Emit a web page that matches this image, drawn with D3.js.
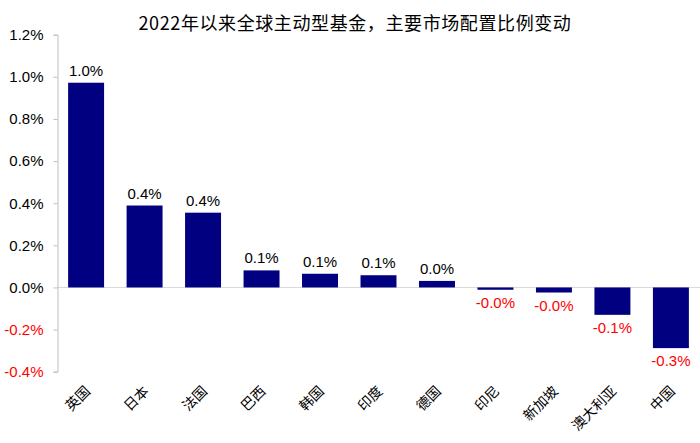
<!DOCTYPE html>
<html>
<head>
<meta charset="utf-8">
<script src="https://cdn.jsdelivr.net/npm/d3@7/dist/d3.min.js"></script>
<style>
  html, body { margin: 0; padding: 0; background: #fff; }
  svg { display: block; }
</style>
</head>
<body>
<svg id="chart" width="700" height="443"></svg>
<script>
const title = "2022年以来全球主动型基金，主要市场配置比例变动";
const categories = ["英国", "日本", "法国", "巴西", "韩国", "印度", "德国", "印尼", "新加坡", "澳大利亚", "中国"];
const values = [0.972, 0.389, 0.355, 0.081, 0.065, 0.058, 0.031, -0.011, -0.024, -0.130, -0.288];
const yTicks = [-0.4, -0.2, 0.0, 0.2, 0.4, 0.6, 0.8, 1.0, 1.2];

const svg = d3.select("#chart");
const latin = "'Liberation Sans', Arial, sans-serif";
const cjk = "'Noto Sans CJK SC', 'Liberation Sans', sans-serif";
const pct = v => v.toFixed(1) + "%";

const x = d3.scaleBand().domain(categories).range([57, 700]).paddingInner(0.385).paddingOuter(0.19);
const y = d3.scaleLinear().domain([-0.4, 1.2]).range([371.7, 34.7]);

// Title
svg.append("text")
  .attr("x", 355).attr("y", 30)
  .attr("text-anchor", "middle")
  .attr("font-family", cjk)
  .attr("font-size", 18)
  .attr("letter-spacing", 0.6)
  .attr("fill", "#000")
  .text(title);

// Zero line
svg.append("line")
  .attr("x1", 57).attr("x2", 700)
  .attr("y1", y(0)).attr("y2", y(0))
  .attr("stroke", "#d9d9d9").attr("stroke-width", 1);

// Y axis
const yAxis = d3.axisLeft(y)
  .tickValues(yTicks)
  .tickSize(4)
  .tickPadding(10)
  .tickFormat(pct);
const yg = svg.append("g").attr("transform", "translate(57.5,0)").call(yAxis);
yg.select(".domain").attr("stroke", "#bfbfbf");
yg.selectAll(".tick line").attr("stroke", "#bfbfbf");
yg.selectAll(".tick text")
  .attr("font-family", latin)
  .attr("font-size", 15)
  .attr("fill", d => d < 0 ? "#ff0000" : "#000");

// Bars
svg.append("g").selectAll("rect")
  .data(categories)
  .join("rect")
  .attr("x", (d) => x(d))
  .attr("width", x.bandwidth())
  .attr("y", (d, i) => y(Math.max(0, values[i])))
  .attr("height", (d, i) => Math.abs(y(values[i]) - y(0)))
  .attr("fill", "#000080");

// Data labels
svg.append("g").selectAll("text")
  .data(categories)
  .join("text")
  .attr("x", d => x(d) + x.bandwidth() / 2)
  .attr("y", (d, i) => values[i] >= 0 ? y(values[i]) - 7 : y(values[i]) + 18)
  .attr("text-anchor", "middle")
  .attr("font-family", latin)
  .attr("font-size", 15)
  .attr("fill", (d, i) => values[i] < 0 ? "#ff0000" : "#000")
  .text((d, i) => pct(values[i]));

// Category labels
svg.append("g").selectAll("text")
  .data(categories)
  .join("text")
  .attr("transform", d => `translate(${x(d) + x.bandwidth() / 2 + 5},${392}) rotate(-45)`)
  .attr("text-anchor", "end")
  .attr("font-family", cjk)
  .attr("font-size", 14)
  .attr("fill", "#000")
  .text(d => d);
</script>
</body>
</html>
